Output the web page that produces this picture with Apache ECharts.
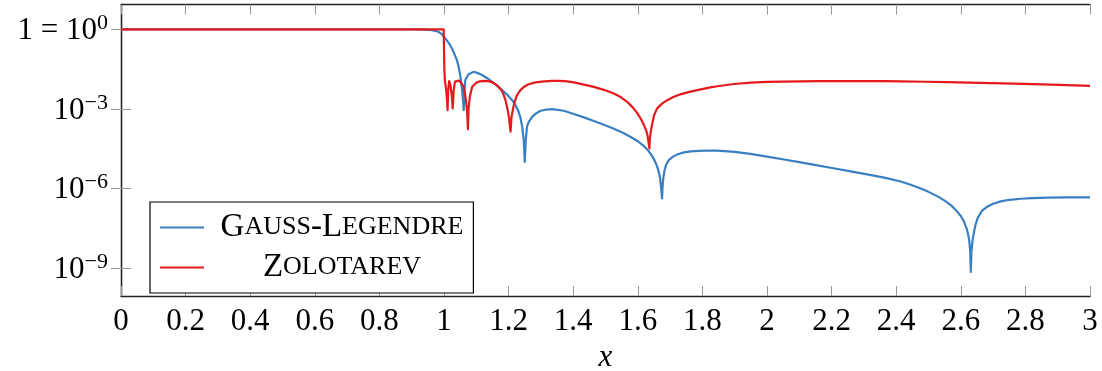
<!DOCTYPE html>
<html>
<head>
<meta charset="utf-8">
<script src="https://cdn.jsdelivr.net/npm/echarts@6/dist/echarts.min.js"></script>
<style>html,body{margin:0;padding:0;background:#fff}#c{width:1102px;height:371px}</style>
</head>
<body>
<div id="c"></div>
<script>
// ---- data ----
const seriesNames = ['Gauss-Legendre', 'Zolotarev'];
const gaussX = [0, 0.5, 0.9, 0.94, 0.963, 0.983, 0.994, 1.004, 1.015, 1.025, 1.040, 1.046, 1.051, 1.056, 1.059, 1.061, 1.063, 1.066, 1.076, 1.082, 1.092, 1.105, 1.118, 1.135, 1.149, 1.165, 1.180, 1.196, 1.211, 1.222, 1.231, 1.237, 1.242, 1.247, 1.250, 1.253, 1.257, 1.262, 1.273, 1.285, 1.299, 1.315, 1.335, 1.371, 1.402, 1.433, 1.464, 1.495, 1.526, 1.552, 1.577, 1.600, 1.619, 1.633, 1.645, 1.653, 1.660, 1.665, 1.669, 1.672, 1.675, 1.677, 1.679, 1.683, 1.688, 1.696, 1.709, 1.722, 1.740, 1.763, 1.790, 1.820, 1.846, 1.900, 1.949, 2.000, 2.053, 2.100, 2.156, 2.210, 2.259, 2.310, 2.363, 2.414, 2.445, 2.476, 2.500, 2.528, 2.550, 2.569, 2.585, 2.600, 2.610, 2.619, 2.623, 2.626, 2.629, 2.631, 2.633, 2.636, 2.640, 2.645, 2.652, 2.665, 2.683, 2.700, 2.724, 2.750, 2.786, 2.820, 2.869, 2.930, 3.0];
const gaussY = [1, 1, 1, 0.977, 0.933, 0.813, 0.646, 0.457, 0.302, 0.191, 6.92e-2, 3.55e-2, 1.62e-2, 5.13e-3, 2.0e-3, 8.91e-4, 3.98e-3, 1.23e-2, 2.04e-2, 2.34e-2, 2.51e-2, 2.24e-2, 1.91e-2, 1.41e-2, 1.05e-2, 7.41e-3, 5.13e-3, 3.39e-3, 2.14e-3, 1.35e-3, 7.76e-4, 4.47e-4, 2.14e-4, 6.31e-5, 1.0e-5, 6.31e-5, 2.14e-4, 3.16e-4, 5.01e-4, 6.76e-4, 8.51e-4, 9.33e-4, 9.77e-4, 8.51e-4, 6.46e-4, 4.79e-4, 3.47e-4, 2.51e-4, 1.78e-4, 1.29e-4, 8.91e-5, 6.03e-5, 3.98e-5, 2.63e-5, 1.62e-5, 1.07e-5, 6.61e-6, 4.17e-6, 2.40e-6, 1.12e-6, 4.17e-7, 1.26e-6, 2.51e-6, 4.90e-6, 7.94e-6, 1.17e-5, 1.58e-5, 1.91e-5, 2.24e-5, 2.51e-5, 2.63e-5, 2.69e-5, 2.66e-5, 2.40e-5, 2.0e-5, 1.58e-5, 1.23e-5, 9.77e-6, 7.41e-6, 5.62e-6, 4.37e-6, 3.39e-6, 2.54e-6, 1.82e-6, 1.38e-6, 1.0e-6, 7.41e-7, 5.01e-7, 3.47e-7, 2.34e-7, 1.51e-7, 9.12e-8, 5.62e-8, 2.82e-8, 1.78e-8, 1.12e-8, 4.47e-9, 7.08e-10, 3.98e-9, 1.0e-8, 2.0e-8, 3.98e-8, 7.59e-8, 1.41e-7, 2.09e-7, 2.63e-7, 3.24e-7, 3.72e-7, 4.07e-7, 4.27e-7, 4.47e-7, 4.57e-7, 4.57e-7];
const zoloX = [0, 0.5, 0.999, 1.000, 1.001, 1.003, 1.007, 1.010, 1.011, 1.013, 1.016, 1.020, 1.024, 1.027, 1.030, 1.034, 1.040, 1.046, 1.055, 1.061, 1.068, 1.072, 1.074, 1.076, 1.080, 1.087, 1.095, 1.102, 1.112, 1.123, 1.136, 1.149, 1.160, 1.169, 1.178, 1.185, 1.191, 1.195, 1.201, 1.206, 1.209, 1.213, 1.217, 1.226, 1.236, 1.247, 1.262, 1.283, 1.310, 1.335, 1.355, 1.376, 1.402, 1.430, 1.464, 1.495, 1.526, 1.548, 1.567, 1.585, 1.598, 1.610, 1.619, 1.627, 1.630, 1.636, 1.6375, 1.641, 1.645, 1.650, 1.660, 1.675, 1.691, 1.710, 1.732, 1.760, 1.784, 1.825, 1.846, 1.898, 1.950, 2.001, 2.050, 2.104, 2.160, 2.208, 2.260, 2.311, 2.360, 2.414, 2.490, 2.559, 2.660, 2.765, 2.880, 3.0];
const zoloY = [1, 1, 1, 0.891, 3.16e-2, 1.12e-2, 5.01e-3, 1.58e-3, 8.91e-4, 5.01e-3, 1.12e-2, 7.94e-3, 3.16e-3, 1.05e-3, 5.01e-3, 1.07e-2, 1.23e-2, 1.17e-2, 8.91e-3, 6.76e-3, 2.14e-3, 6.31e-4, 1.70e-4, 1.0e-3, 2.88e-3, 6.76e-3, 8.51e-3, 1.0e-2, 1.10e-2, 1.15e-2, 1.12e-2, 1.02e-2, 8.51e-3, 6.76e-3, 5.01e-3, 3.31e-3, 2.0e-3, 1.20e-3, 5.01e-4, 1.38e-4, 5.01e-4, 8.91e-4, 1.58e-3, 3.31e-3, 5.01e-3, 6.76e-3, 8.51e-3, 1.0e-2, 1.10e-2, 1.15e-2, 1.15e-2, 1.12e-2, 1.0e-2, 8.41e-3, 6.76e-3, 5.25e-3, 3.80e-3, 2.75e-3, 1.86e-3, 1.12e-3, 7.08e-4, 4.07e-4, 2.45e-4, 1.41e-4, 1.0e-4, 3.24e-5, 7.94e-5, 1.58e-4, 2.82e-4, 5.62e-4, 1.05e-3, 1.58e-3, 2.14e-3, 2.82e-3, 3.55e-3, 4.37e-3, 5.13e-3, 6.46e-3, 7.16e-3, 8.71e-3, 9.77e-3, 1.04e-2, 1.07e-2, 1.10e-2, 1.11e-2, 1.12e-2, 1.12e-2, 1.12e-2, 1.11e-2, 1.10e-2, 1.06e-2, 1.02e-2, 9.66e-3, 9.02e-3, 8.22e-3, 7.41e-3];
const yTickValues = [1, 1e-3, 1e-6, 1e-9];
const xMin = 0, xMax = 3, xStep = 0.2;
const xName = 'x';

// ---- presentation ----
const FONT = '"Liberation Serif", "DejaVu Serif", serif';
const BLUE = '#3a7fc1', RED = '#e41a1c';
const pairs = (xs, ys) => xs.map((x, i) => [x, ys[i]]);
const yMin = Math.pow(10, -10.06), yMax = Math.pow(10, 0.94);

function yLabel(v) {
  const e = Math.round(Math.log10(v));
  if (e === 0) return '{n|1 = 10}{e|0}';
  return '{n|10}{e|\u2212' + (-e) + '}';
}
const yRich = {
  n: { fontFamily: FONT, fontSize: 31, color: '#000', verticalAlign: 'bottom', lineHeight: 34 },
  e: { fontFamily: FONT, fontSize: 22, color: '#000', verticalAlign: 'bottom', lineHeight: 34, padding: [0, 0, 12, 0] }
};
const legendRich = {
  c: { fontFamily: FONT, fontSize: 33, color: '#000', align: 'center', lineHeight: 30 },
  s: { fontFamily: FONT, fontSize: 26, color: '#000', align: 'center', lineHeight: 30 }
};
function smallCaps(name) {
  return name.split('-').map(w => '{c|' + w[0] + '}{s|' + w.slice(1).toUpperCase() + '}').join('{c|-}');
}
const frameLine = { show: true, lineStyle: { color: '#222', width: 1.3 } };
const tick = { show: true, inside: true, length: 10, lineStyle: { color: '#999', width: 1 } };
const lineCommon = { type: 'line', xAxisIndex: 0, yAxisIndex: 0, symbol: 'none', showSymbol: false, smooth: false };

const chart = echarts.init(document.getElementById('c'), null, { renderer: 'canvas' });
chart.setOption({
  animation: false,
  backgroundColor: '#fff',
  grid: { left: 121, right: 12, top: 4.5, bottom: 75, containLabel: false, outerBoundsMode: 'none' },
  legend: {
    orient: 'vertical', left: 150, top: 202,
    padding: [9, 10, 9, 10], itemGap: 7, itemWidth: 44, itemHeight: 2,
    icon: 'rect',
    borderColor: '#000', borderWidth: 1.2, backgroundColor: '#fff',
    data: seriesNames,
    formatter: smallCaps,
    textStyle: { width: 266, fontFamily: FONT, color: '#000', rich: legendRich }
  },
  xAxis: [
    {
      type: 'value', min: xMin, max: xMax, interval: xStep, position: 'bottom',
      name: xName, nameLocation: 'middle', nameGap: 41,
      nameTextStyle: { fontFamily: FONT, fontSize: 31, fontStyle: 'italic', color: '#000' },
      axisLine: frameLine, axisTick: tick, splitLine: { show: false },
      axisLabel: { margin: 10, fontFamily: FONT, fontSize: 31, color: '#000',
        formatter: v => String(+v.toFixed(1)) }
    },
    {
      type: 'value', min: xMin, max: xMax, interval: xStep, position: 'top',
      axisLine: frameLine, axisTick: tick, splitLine: { show: false }, axisLabel: { show: false }
    }
  ],
  yAxis: [
    {
      type: 'log', logBase: 10, min: yMin, max: yMax, position: 'left',
      axisLine: frameLine, axisTick: Object.assign({}, tick, { customValues: yTickValues }),
      splitLine: { show: false }, minorTick: { show: false },
      axisLabel: { margin: 13, customValues: yTickValues, formatter: yLabel, rich: yRich }
    },
    {
      type: 'log', logBase: 10, min: yMin, max: yMax, position: 'right',
      axisLine: frameLine, axisTick: Object.assign({}, tick, { customValues: yTickValues }),
      splitLine: { show: false }, axisLabel: { show: false }
    }
  ],
  series: [
    Object.assign({ name: seriesNames[0], lineStyle: { color: BLUE, width: 2.2, join: 'round' }, itemStyle: { color: BLUE },
      data: pairs(gaussX, gaussY) }, lineCommon),
    Object.assign({ name: seriesNames[1], lineStyle: { color: RED, width: 2.2, join: 'round' }, itemStyle: { color: RED },
      data: pairs(zoloX, zoloY) }, lineCommon)
  ]
});
</script>
</body>
</html>
